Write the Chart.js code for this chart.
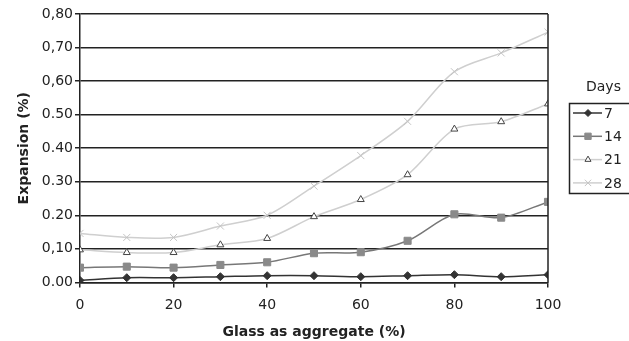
<!DOCTYPE html>
<html lang="en">
<head>
<meta charset="utf-8">
<title>expansion vs glass</title>
<style>
  html, body { margin: 0; padding: 0; background: #fff; }
  #wrap { width: 629px; height: 341px; }
</style>
</head>
<body>
<div id="wrap"><canvas id="myChart"></canvas></div>
<script src="https://cdn.jsdelivr.net/npm/chart.js"></script>
<script>
  // glass content (%)
  const glassPct = [0, 10, 20, 30, 40, 50, 60, 70, 80, 90, 100];
  // expansion (%) by curing age
  const days7  = [0.006, 0.014, 0.014, 0.017, 0.020, 0.020, 0.017, 0.020, 0.023, 0.017, 0.023];
  const days14 = [0.044, 0.047, 0.044, 0.052, 0.060, 0.087, 0.090, 0.124, 0.203, 0.193, 0.240];
  const days21 = [0.097, 0.089, 0.089, 0.112, 0.131, 0.196, 0.247, 0.321, 0.457, 0.479, 0.532];
  const days28 = [0.146, 0.134, 0.134, 0.168, 0.200, 0.287, 0.378, 0.480, 0.628, 0.684, 0.746];
  const seriesNames = ['7', '14', '21', '28'];
  const yTickLabels = ['0.00', '0,10', '0.20', '0.30', '0.40', '0.50', '0,60', '0,70', '0,80'];

  const FONT = '"DejaVu Sans", Verdana, sans-serif';
  const pts = (ys) => glassPct.map((x, i) => ({x: x, y: ys[i]}));

  const styles = [
    {line: '#333333', fill: '#333333', stroke: '#333333', shape: 'rectRot', r: 4},
    {line: '#777777', fill: '#8a8a8a', stroke: '#8a8a8a', shape: 'rect', r: 5},
    {line: '#cfcfcf', fill: '#ffffff', stroke: '#444444', shape: 'triangle', r: 4},
    {line: '#cfcfcf', fill: '#cfcfcf', stroke: '#c4c4c4', shape: 'crossRot', r: 5}
  ];
  const allData = [days7, days14, days21, days28];

  // right frame + "Days" legend box
  const frameAndLegend = {
    id: 'frameAndLegend',
    afterDraw(chart) {
      const c = chart.ctx, a = chart.chartArea;
      c.save();
      c.strokeStyle = '#222';
      c.lineWidth = 1.5;
      c.beginPath();
      c.moveTo(a.right, a.top);
      c.lineTo(a.right, a.bottom);
      c.stroke();

      c.fillStyle = '#222';
      c.font = '14px ' + FONT;
      c.textBaseline = 'middle';
      c.fillText('Days', 586, 87);
      c.lineWidth = 1.5;
      c.strokeRect(569.5, 103.5, 80, 90);
      seriesNames.forEach((name, i) => {
        const y = 113 + i * 23.3;
        const s = styles[i];
        c.strokeStyle = s.line;
        c.lineWidth = 1.5;
        c.beginPath();
        c.moveTo(573, y);
        c.lineTo(602, y);
        c.stroke();
        c.lineWidth = 1;
        c.fillStyle = s.fill;
        c.strokeStyle = s.stroke;
        Chart.helpers.drawPoint(c, {pointStyle: s.shape, radius: s.r - 0.5, borderWidth: 1}, 588, y);
        c.fillStyle = '#222';
        c.fillText(name, 604, y + 1);
      });
      c.restore();
    }
  };

  const ctx = document.getElementById('myChart');
  new Chart(ctx, {
    type: 'line',
    data: {
      datasets: allData.map((ys, i) => ({
        label: seriesNames[i],
        data: pts(ys),
        borderColor: styles[i].line,
        borderWidth: 1.5,
        tension: 0.3,
        pointStyle: styles[i].shape,
        pointRadius: styles[i].r,
        pointBackgroundColor: styles[i].fill,
        pointBorderColor: styles[i].stroke,
        pointBorderWidth: 1,
        fill: false
      })).reverse()
    },
    options: {
      responsive: true,
      maintainAspectRatio: false,
      animation: false,
      layout: {padding: {left: 12, right: 81, top: 14, bottom: 0}},
      plugins: {legend: {display: false}, tooltip: {enabled: false}},
      scales: {
        x: {
          type: 'linear',
          min: 0, max: 100,
          grid: {display: true, drawOnChartArea: false, color: '#222', lineWidth: 1.5, tickLength: 5},
          border: {color: '#222', width: 1.5},
          ticks: {stepSize: 20, color: '#222', font: {family: FONT, size: 14}, padding: 10},
          title: {display: true, text: 'Glass as aggregate (%)', color: '#222',
                  font: {family: FONT, size: 14, weight: 'bold'}, padding: {top: 0, bottom: 0}}
        },
        y: {
          min: 0, max: 0.8,
          grid: {color: '#222', lineWidth: 1.5, tickLength: 5},
          border: {color: '#222', width: 1.5},
          ticks: {stepSize: 0.1, color: '#222', font: {family: FONT, size: 14}, padding: 2,
                  callback: (v, i) => yTickLabels[i]},
          title: {display: true, text: 'Expansion (%)', color: '#222',
                  font: {family: FONT, size: 14, weight: 'bold'}, padding: {bottom: 7}}
        }
      }
    },
    plugins: [frameAndLegend]
  });
</script>
</body>
</html>
